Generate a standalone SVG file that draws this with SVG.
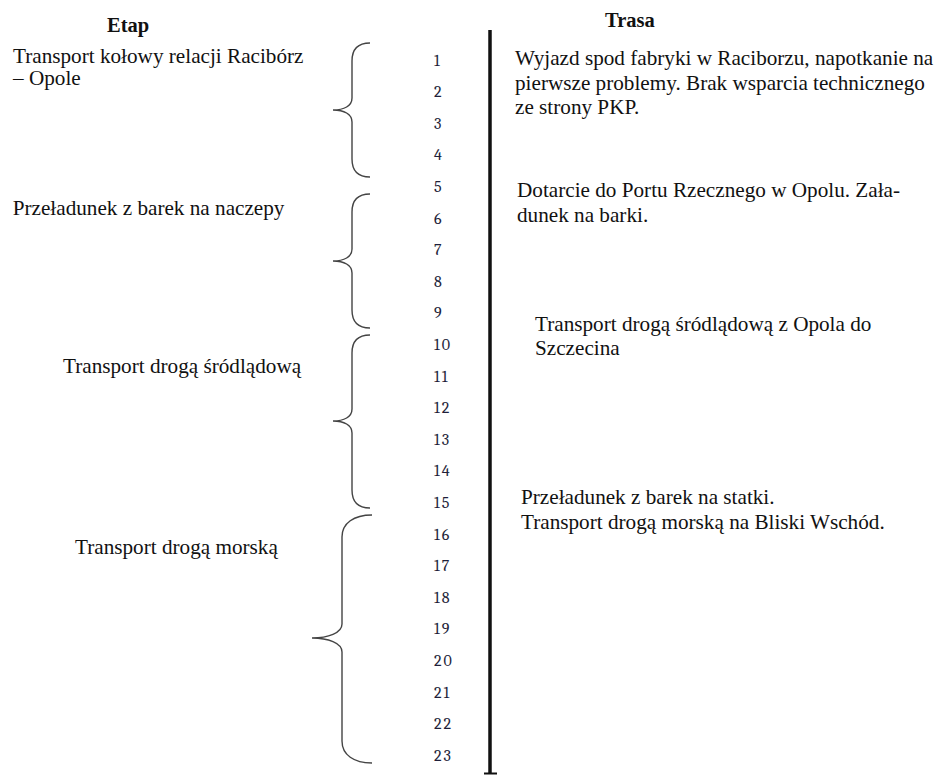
<svg xmlns="http://www.w3.org/2000/svg" width="939" height="775" viewBox="0 0 939 775">
<style>
.t{font-family:"Liberation Serif","Times New Roman",serif;font-size:21.2px;fill:#111}
.h{font-family:"Liberation Serif","Times New Roman",serif;font-size:20.5px;font-weight:bold;fill:#111}
.n{font-family:"Cambria","DejaVu Serif",serif;font-size:16px;fill:#1f1f3a;letter-spacing:2px;font-variant-numeric:oldstyle-nums}
.b{fill:none;stroke:#444;stroke-width:1.4}
</style>
<rect width="939" height="775" fill="#fff"/>
<g id="headers">
<text class="h" x="107" y="32">Etap</text>
<text class="h" x="605" y="27">Trasa</text>
</g>
<g id="stage1">
<text class="t" x="13" y="62.5">Transport kołowy relacji Racibórz</text>
<text class="t" x="13" y="85">– Opole</text>
</g>
<g id="stage2">
<text class="t" x="12.7" y="215">Przeładunek z barek na naczepy</text>
</g>
<g id="stage3">
<text class="t" x="63" y="372.7">Transport drogą śródlądową</text>
</g>
<g id="stage4">
<text class="t" x="75" y="554">Transport drogą morską</text>
</g>
<g id="braces">
<path class="b" d="M370,43 C358,43 352,49 352,61 L352,98 C352,106 344,110 333,110 C344,110 352,114 352,122 L352,159 C352,171 358,177 370,177"/>
<path class="b" d="M370,194 C358,194 352,200 352,212 L352,249 C352,257 344,261 333,261 C344,261 352,265 352,273 L352,310 C352,322 358,328 370,328"/>
<path class="b" d="M370,335 C358,335 352,341 352,353 L352,409 C352,417 344,421 333,421 C344,421 352,425 352,433 L352,490 C352,502 358,508 370,508"/>
<path class="b" d="M372,515 C354,515 342,523 342,537 L342,624 C342,633 328,638 312,638 C328,638 342,643 342,652 L342,741 C342,755 354,763 372,763"/>
</g>
<g id="numbers">
<text class="n" x="434" y="65.6">1</text>
<text class="n" x="434" y="97.2">2</text>
<text class="n" x="434" y="128.8">3</text>
<text class="n" x="434" y="160.4">4</text>
<text class="n" x="434" y="192">5</text>
<text class="n" x="434" y="223.6">6</text>
<text class="n" x="434" y="255.2">7</text>
<text class="n" x="434" y="286.8">8</text>
<text class="n" x="434" y="318.4">9</text>
<text class="n" x="434" y="350">10</text>
<text class="n" x="434" y="381.6">11</text>
<text class="n" x="434" y="413.2">12</text>
<text class="n" x="434" y="444.8">13</text>
<text class="n" x="434" y="476.4">14</text>
<text class="n" x="434" y="508">15</text>
<text class="n" x="434" y="539.6">16</text>
<text class="n" x="434" y="571.2">17</text>
<text class="n" x="434" y="602.8">18</text>
<text class="n" x="434" y="634.4">19</text>
<text class="n" x="434" y="666">20</text>
<text class="n" x="434" y="697.6">21</text>
<text class="n" x="434" y="729.2">22</text>
<text class="n" x="434" y="760.8">23</text>
</g>
<g id="connectors">
<line x1="490" y1="30" x2="490" y2="773" stroke="#111" stroke-width="3.5"/>
<line x1="484" y1="773.5" x2="497" y2="773.5" stroke="#111" stroke-width="2"/>
</g>
<g id="route1">
<text class="t" x="515" y="65">Wyjazd spod fabryki w Raciborzu, napotkanie na</text>
<text class="t" x="515" y="89.5">pierwsze problemy. Brak wsparcia technicznego</text>
<text class="t" x="515" y="114">ze strony PKP.</text>
</g>
<g id="route2">
<text class="t" x="517" y="197">Dotarcie do Portu Rzecznego w Opolu. Zała-</text>
<text class="t" x="517" y="222">dunek na barki.</text>
</g>
<g id="route3">
<text class="t" x="535" y="330.5">Transport drogą śródlądową z Opola do</text>
<text class="t" x="535" y="355">Szczecina</text>
</g>
<g id="route4">
<text class="t" x="521" y="504">Przeładunek z barek na statki.</text>
<text class="t" x="521" y="529">Transport drogą morską na Bliski Wschód.</text>
</g>
</svg>
